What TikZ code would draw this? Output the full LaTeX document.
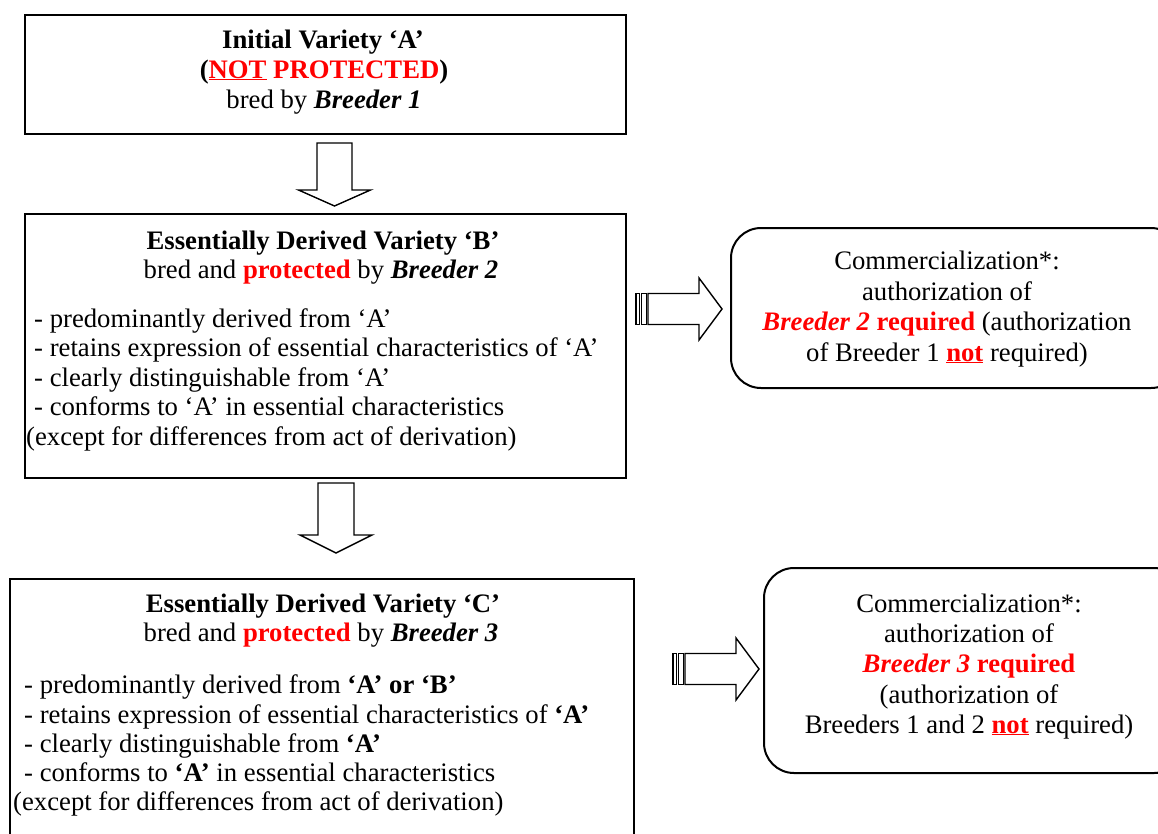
\documentclass[tikz,border=0pt]{standalone}
\usepackage{fontspec}
\setmainfont{Liberation Serif}
\usetikzlibrary{calc}
\definecolor{pured}{RGB}{255,0,0}
\newcommand{\bi}[1]{\textbf{\textit{#1}}}
\newcommand{\rd}[1]{\textcolor{pured}{#1}}
\begin{document}
\begin{tikzpicture}[x=1pt,y=-1pt,
  box/.style={draw=black, line width=2pt, rectangle, inner sep=0pt},
  rbox/.style={draw=black, line width=2pt, rectangle, rounded corners=30pt, inner sep=0pt},
  arrowline/.style={draw=black, line width=1.4pt, fill=white, line join=miter},
  tc/.style={font=\fontsize{26.7}{30}\selectfont, inner sep=0pt, anchor=base},
  tl/.style={font=\fontsize{26.7}{30}\selectfont, inner sep=0pt, anchor=base west},
  downarr/.pic={\draw[arrowline] (-17.5,0) -- (17.5,0) -- (17.5,47) -- (36,47) -- (0,63) -- (-36,47) -- (-17.5,47) -- cycle;},
  downarrb/.pic={\draw[arrowline] (-18,0) -- (18,0) -- (18,52) -- (36,52) -- (0,70) -- (-36,52) -- (-18,52) -- cycle;},
  rightarr/.pic={
    \draw[arrowline] (0,-15.5) rectangle (3.5,15.5);
    \draw[arrowline] (5.5,-15.5) rectangle (10.5,15.5);
    \draw[arrowline] (12,-15.5) -- (63,-15.5) -- (63,-31) -- (86,0) -- (63,31) -- (63,15.5) -- (12,15.5) -- cycle;}
]
\useasboundingbox (0,0) rectangle (1158,833);
\clip (0,0) rectangle (1158,833);
\fill[white] (0,0) rectangle (1158,833);

% Box A
\node[box, minimum width=601pt, minimum height=119pt] (A) at (325.5,74.5) {};
\node[tc] (a1) at (323,48) {\textbf{Initial Variety ‘A’}};
\node[tc] (a2) at (324,78) {\textbf{(\rd{\underline{NOT}} \rd{PROTECTED})}};
\node[tc] (a3) at (324,108) {bred by \bi{Breeder 1}};

% Arrow A -> B
\pic at (334.5,143) {downarr};

% Box B
\node[box, minimum width=601pt, minimum height=264pt] (B) at (325.5,346) {};
\node[tc] (b1) at (323,249) {\textbf{Essentially Derived Variety ‘B’}};
\node[tc] (b2) at (321,278) {bred and \rd{\textbf{protected}} by \bi{Breeder 2}};
\node[tl] (b3) at (34,327) {- predominantly derived from ‘A’};
\node[tl] (b4) at (34,356) {- retains expression of essential characteristics of ‘A’};
\node[tl] (b5) at (34,386) {- clearly distinguishable from ‘A’};
\node[tl] (b6) at (34,415) {- conforms to ‘A’ in essential characteristics};
\node[tl] (b7) at (26,445) {(except for differences from act of derivation)};

% Arrow B -> R1
\pic at (636,309) {rightarr};

% Rounded box R1
\node[rbox, minimum width=450pt, minimum height=160pt] (R1) at (956,308) {};
\node[tc] (r11) at (947,269) {Commercialization*:};
\node[tc] (r12) at (947,300) {authorization of};
\node[tc] (r13) at (947,330) {\rd{\bi{Breeder 2} \textbf{required}} (authorization};
\node[tc] (r14) at (947,361) {of Breeder 1 \rd{\textbf{\underline{not}}} required)};

% Arrow B -> C
\pic at (336,483) {downarrb};

% Box C
\node[box, minimum width=624pt, minimum height=270pt] (C) at (322,714) {};
\node[tc] (c1) at (323,612) {\textbf{Essentially Derived Variety ‘C’}};
\node[tc] (c2) at (321,641) {bred and \rd{\textbf{protected}} by \bi{Breeder 3}};
\node[tl] (c3) at (24,693) {- predominantly derived from \textbf{‘A’ or ‘B’}};
\node[tl] (c4) at (24,723) {- retains expression of essential characteristics of \textbf{‘A’}};
\node[tl] (c5) at (24,752) {- clearly distinguishable from \textbf{‘A’}};
\node[tl] (c6) at (24,781) {- conforms to \textbf{‘A’} in essential characteristics};
\node[tl] (c7) at (13,810) {(except for differences from act of derivation)};

% Arrow C -> R2
\pic at (673,669) {rightarr};

% Rounded box R2
\node[rbox, minimum width=420pt, minimum height=205pt] (R2) at (974,670.5) {};
\node[tc] (r21) at (969,612) {Commercialization*:};
\node[tc] (r22) at (969,642) {authorization of};
\node[tc] (r23) at (969,672) {\rd{\bi{Breeder 3} \textbf{required}}};
\node[tc] (r24) at (969,703) {(authorization of};
\node[tc] (r25) at (969,733) {Breeders 1 and 2 \rd{\textbf{\underline{not}}} required)};
\end{tikzpicture}
\end{document}
